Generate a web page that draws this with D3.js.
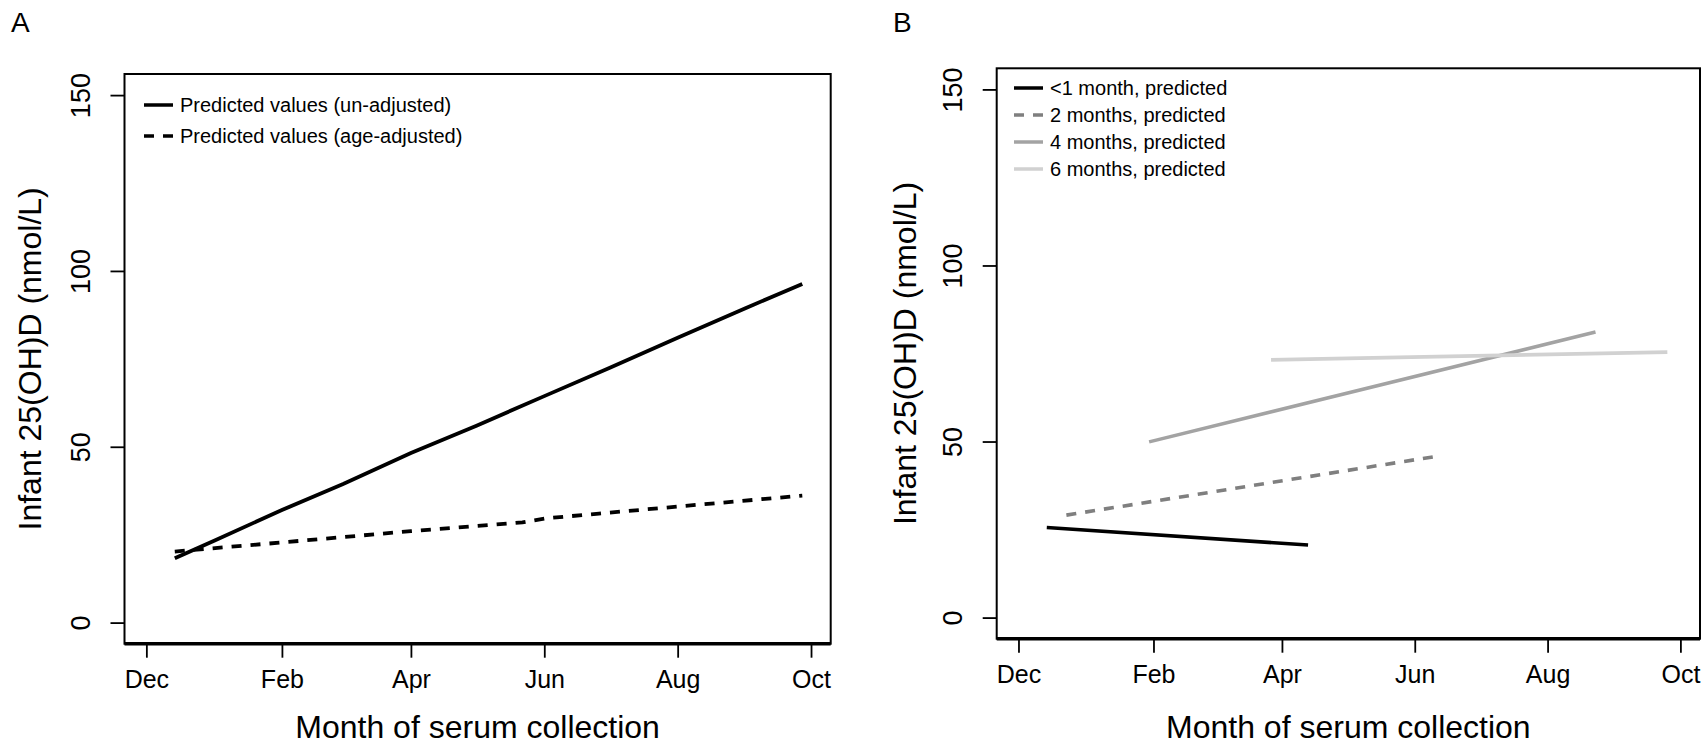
<!DOCTYPE html>
<html>
<head>
<meta charset="utf-8">
<script src="https://cdn.jsdelivr.net/npm/d3@7"></script>
<style>
  body { margin: 0; background: #fff; }
  svg text { font-family: "Liberation Sans", Arial, sans-serif; fill: #000; }
</style>
</head>
<body>
<div id="chart"></div>
<script>
// month ticks shared by both panels
var tickDates = ["2010-12-01", "2011-02-01", "2011-04-01", "2011-06-01", "2011-08-01", "2011-10-01"];
var monthLabels = ["Dec", "Feb", "Apr", "Jun", "Aug", "Oct"];
var yTicks = [0, 50, 100, 150];

// panel A: predicted values
var unadjDates = ["2010-12-14", "2011-01-01", "2011-02-01", "2011-03-01", "2011-04-01", "2011-05-01",
    "2011-06-01", "2011-07-01", "2011-08-01", "2011-09-01", "2011-09-27"];
var unadjValues = [18.3, 23.3, 32.0, 39.4, 48.2, 56.0, 64.4, 72.5, 81.0, 89.4, 96.3];
var ageAdjDates = ["2010-12-14", "2011-02-01", "2011-04-01", "2011-05-22", "2011-06-01", "2011-06-26",
    "2011-08-01", "2011-09-27"];
var ageAdjValues = [20.2, 22.8, 26.0, 28.5, 29.6, 31.0, 33.0, 36.1];

// panel B: predicted values by age group
var groupNames = ["<1 month, predicted", "2 months, predicted", "4 months, predicted", "6 months, predicted"];
var groupStartDates = ["2010-12-14", "2010-12-23", "2011-01-30", "2011-03-27"];
var groupEndDates = ["2011-04-13", "2011-06-12", "2011-08-23", "2011-09-25"];
var groupStartValues = [25.6, 29.1, 49.9, 73.2];
var groupEndValues = [20.6, 45.9, 81.1, 75.4];
var groupColors = ["#000000", "#7f7f7f", "#a3a3a3", "#d1d1d1"];
var groupDashes = [null, "10,9", null, null];

var svgWidth = 1704;
var svgHeight = 744;
var parseDate = d3.timeParse("%Y-%m-%d");

var svg = d3.select("#chart")
    .append("svg")
    .attr("width", svgWidth)
    .attr("height", svgHeight);

// draws the frame, axes and titles of one panel, returns the scales
function drawPanel(p) {
    var x = d3.scaleTime()
        .domain([parseDate("2010-11-21"), parseDate("2011-10-10")])
        .range([p.left, p.right]);
    var y = d3.scaleLinear()
        .domain([-6, 156])
        .range([p.bottom, p.top]);

    var g = svg.append("g");

    var bottomAxis = d3.axisBottom(x)
        .tickValues(tickDates.map(parseDate))
        .tickSize(14)
        .tickPadding(13)
        .tickFormat(function (d, i) { return monthLabels[i]; });

    var xAxis = g.append("g")
        .attr("transform", `translate(0, ${p.bottom})`)
        .call(bottomAxis);
    xAxis.select(".domain").remove();
    xAxis.selectAll("line").attr("stroke", "#000").attr("stroke-width", 1.8);
    xAxis.selectAll("text").style("font-size", "25px").attr("fill", "#000");

    var leftAxis = d3.axisLeft(y)
        .tickValues(yTicks)
        .tickSize(14);

    var yAxis = g.append("g")
        .attr("transform", `translate(${p.left}, 0)`)
        .call(leftAxis);
    yAxis.select(".domain").remove();
    yAxis.selectAll("line").attr("stroke", "#000").attr("stroke-width", 1.8);
    yAxis.selectAll("text")
        .attr("x", 0)
        .attr("dy", 0)
        .attr("text-anchor", "middle")
        .attr("transform", "translate(-35, 0) rotate(-90)")
        .style("font-size", "27px")
        .attr("fill", "#000");

    // plot frame
    g.append("rect")
        .attr("x", p.left)
        .attr("y", p.top)
        .attr("width", p.right - p.left)
        .attr("height", p.bottom - p.top)
        .attr("fill", "none")
        .attr("stroke", "#000")
        .attr("stroke-width", 2);
    g.append("line")
        .attr("x1", p.left).attr("x2", p.right)
        .attr("y1", p.bottom).attr("y2", p.bottom)
        .attr("stroke", "#000")
        .attr("stroke-width", 3.5);

    // titles
    g.append("text")
        .attr("x", (p.left + p.right) / 2)
        .attr("y", 738)
        .attr("text-anchor", "middle")
        .style("font-size", "32px")
        .text("Month of serum collection");

    g.append("text")
        .attr("transform", `translate(${p.yTitleX}, ${(p.top + p.bottom) / 2}) rotate(-90)`)
        .attr("text-anchor", "middle")
        .style("font-size", "32px")
        .text("Infant 25(OH)D (nmol/L)");

    g.append("text")
        .attr("x", p.letterX)
        .attr("y", 32)
        .style("font-size", "28px")
        .text(p.letter);

    return { x: x, y: y };
}

var panelA = { left: 124.5, right: 830.7, top: 74, bottom: 643.7, yTitleX: 41, letterX: 11, letter: "A" };
var panelB = { left: 996.7, right: 1700, top: 68.3, bottom: 638.7, yTitleX: 916, letterX: 893, letter: "B" };

var scalesA = drawPanel(panelA);
var scalesB = drawPanel(panelB);

// panel A lines
var lineA = d3.line()
    .x(d => scalesA.x(d.date))
    .y(d => scalesA.y(d.value));

var unadjData = unadjDates.map((d, i) => ({ date: parseDate(d), value: unadjValues[i] }));
var ageAdjData = ageAdjDates.map((d, i) => ({ date: parseDate(d), value: ageAdjValues[i] }));

svg.append("path")
    .datum(unadjData)
    .attr("d", lineA)
    .attr("fill", "none")
    .attr("stroke", "#000")
    .attr("stroke-width", 3.8);

svg.append("path")
    .datum(ageAdjData)
    .attr("d", lineA)
    .attr("fill", "none")
    .attr("stroke", "#000")
    .attr("stroke-width", 3.8)
    .attr("stroke-dasharray", "10,9");

// legend A
var legendA = svg.append("g");
var legendANames = ["Predicted values (un-adjusted)", "Predicted values (age-adjusted)"];
var legendADashes = [null, "10,9"];
legendANames.forEach(function (name, i) {
    var ly = 105 + i * 31;
    legendA.append("line")
        .attr("x1", 144).attr("x2", 173)
        .attr("y1", ly).attr("y2", ly)
        .attr("stroke", "#000")
        .attr("stroke-width", 3.5)
        .attr("stroke-dasharray", legendADashes[i]);
    legendA.append("text")
        .attr("x", 180)
        .attr("y", ly)
        .attr("dy", "0.35em")
        .style("font-size", "20px")
        .text(name);
});

// panel B lines
var lineB = d3.line()
    .x(d => scalesB.x(d.date))
    .y(d => scalesB.y(d.value));

groupNames.forEach(function (name, i) {
    var seg = [
        { date: parseDate(groupStartDates[i]), value: groupStartValues[i] },
        { date: parseDate(groupEndDates[i]), value: groupEndValues[i] }
    ];
    svg.append("path")
        .datum(seg)
        .attr("d", lineB)
        .attr("fill", "none")
        .attr("stroke", groupColors[i])
        .attr("stroke-width", 3.6)
        .attr("stroke-dasharray", groupDashes[i]);
});

// legend B
var legendB = svg.append("g");
groupNames.forEach(function (name, i) {
    var ly = 88 + i * 27;
    legendB.append("line")
        .attr("x1", 1014).attr("x2", 1043)
        .attr("y1", ly).attr("y2", ly)
        .attr("stroke", groupColors[i])
        .attr("stroke-width", 3.5)
        .attr("stroke-dasharray", groupDashes[i]);
    legendB.append("text")
        .attr("x", 1050)
        .attr("y", ly)
        .attr("dy", "0.35em")
        .style("font-size", "20px")
        .text(name);
});
</script>
</body>
</html>
